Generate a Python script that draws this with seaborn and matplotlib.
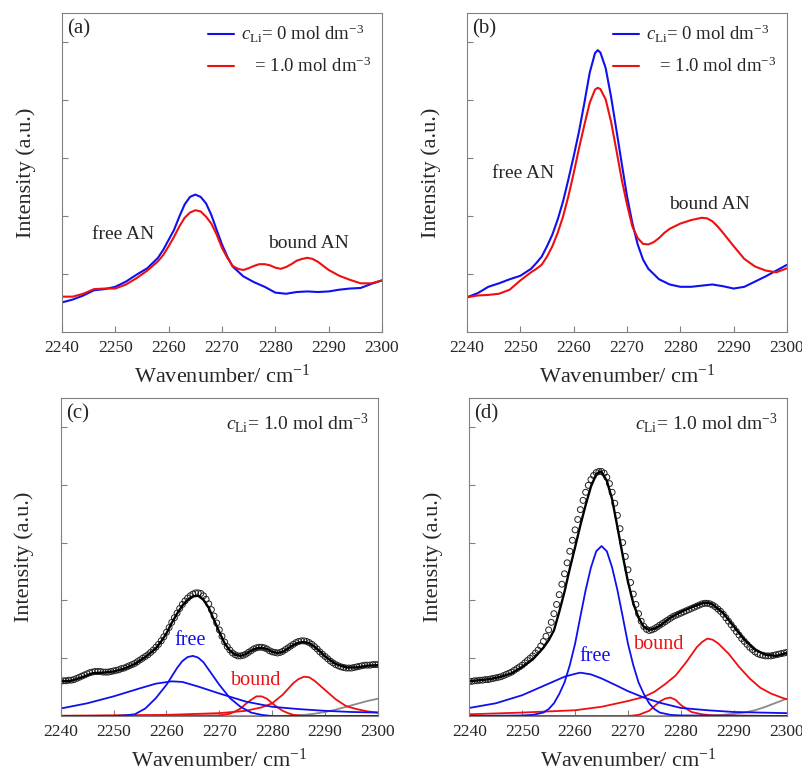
import numpy as np
import matplotlib
matplotlib.use('Agg')
import matplotlib.pyplot as plt
import seaborn as sns

sns.set_style('white')
plt.rcParams['font.family'] = ['Liberation Serif', 'DejaVu Serif']
plt.rcParams['mathtext.fontset'] = 'custom'
plt.rcParams['mathtext.rm'] = 'Liberation Serif'
plt.rcParams['mathtext.it'] = 'Liberation Serif:italic'
plt.rcParams['mathtext.bf'] = 'Liberation Serif:bold'

# ---- panel (a): measured spectra ----
a_blue_x = [2240, 2242, 2244, 2246, 2248, 2250, 2252, 2254, 2256, 2258, 2259, 2260, 2261, 2262,
            2263, 2264, 2265, 2266, 2267, 2268, 2269, 2270, 2271, 2272, 2274, 2276, 2278, 2280,
            2282, 2284, 2286, 2288, 2290, 2292, 2294, 2296, 2298, 2300]
a_blue_y = [0.51, 0.56, 0.63, 0.72, 0.74, 0.78, 0.87, 0.99, 1.10, 1.28, 1.42, 1.59, 1.76, 1.99,
            2.20, 2.33, 2.37, 2.33, 2.22, 2.02, 1.76, 1.51, 1.30, 1.13, 0.96, 0.86, 0.78, 0.68,
            0.66, 0.69, 0.70, 0.69, 0.70, 0.73, 0.75, 0.76, 0.83, 0.89]
a_red_x = [2240, 2242, 2244, 2246, 2248, 2250, 2252, 2254, 2256, 2258, 2259, 2260, 2261, 2262,
           2263, 2264, 2265, 2266, 2267, 2268, 2269, 2270, 2271, 2272, 2273, 2274, 2275, 2276,
           2277, 2278, 2279, 2280, 2281, 2282, 2283, 2284, 2285, 2286, 2287, 2288, 2289, 2290,
           2292, 2294, 2296, 2298, 2300]
a_red_y = [0.61, 0.61, 0.66, 0.74, 0.75, 0.75, 0.82, 0.93, 1.06, 1.22, 1.33, 1.48, 1.64, 1.82,
           1.97, 2.06, 2.10, 2.08, 1.99, 1.87, 1.68, 1.45, 1.28, 1.14, 1.09, 1.07, 1.10, 1.14,
           1.17, 1.17, 1.15, 1.11, 1.09, 1.12, 1.17, 1.23, 1.26, 1.28, 1.26, 1.21, 1.14, 1.07,
           0.97, 0.90, 0.84, 0.84, 0.89]

# ---- panel (b): measured spectra ----
b_blue_x = [2240, 2242, 2244, 2246, 2248, 2250, 2252, 2253, 2254, 2255, 2256, 2257, 2258, 2259,
            2260, 2261, 2262, 2263, 2264, 2264.5, 2265, 2266, 2267, 2268, 2269, 2270, 2271, 2272,
            2273, 2274, 2276, 2278, 2280, 2282, 2284, 2286, 2288, 2290, 2292, 2294, 2296, 2298, 2300]
b_blue_y = [0.60, 0.67, 0.78, 0.84, 0.91, 0.97, 1.09, 1.19, 1.30, 1.48, 1.68, 1.94, 2.25, 2.63,
            3.03, 3.46, 3.95, 4.47, 4.81, 4.86, 4.82, 4.55, 4.06, 3.49, 2.91, 2.34, 1.88, 1.51,
            1.25, 1.09, 0.91, 0.82, 0.78, 0.78, 0.80, 0.82, 0.79, 0.75, 0.78, 0.87, 0.96, 1.06, 1.16]
b_red_x = [2240, 2242, 2244, 2246, 2248, 2250, 2252, 2253, 2254, 2255, 2256, 2257, 2258, 2259,
           2260, 2261, 2262, 2263, 2264, 2264.5, 2265, 2266, 2267, 2268, 2269, 2270, 2271, 2272,
           2273, 2274, 2275, 2276, 2277, 2278, 2280, 2282, 2284, 2285, 2286, 2287, 2288, 2290,
           2292, 2294, 2296, 2298, 2300]
b_red_y = [0.60, 0.63, 0.64, 0.66, 0.73, 0.89, 1.03, 1.09, 1.16, 1.30, 1.48, 1.71, 1.99, 2.34,
           2.74, 3.17, 3.57, 3.95, 4.18, 4.21, 4.19, 4.01, 3.63, 3.14, 2.63, 2.20, 1.82, 1.62,
           1.52, 1.51, 1.55, 1.62, 1.71, 1.78, 1.87, 1.93, 1.97, 1.96, 1.91, 1.82, 1.71, 1.48,
           1.26, 1.13, 1.06, 1.03, 1.10]

# ---- panel (c): data points, fit and components ----
circ_x = np.arange(2240, 2300.25, 0.5)
c_pts = [0.60, 0.61, 0.61, 0.62, 0.62, 0.63, 0.65, 0.67, 0.69, 0.71,
         0.73, 0.75, 0.76, 0.77, 0.77, 0.77, 0.76, 0.76, 0.76, 0.77,
         0.78, 0.79, 0.80, 0.82, 0.83, 0.85, 0.87, 0.89, 0.91, 0.94,
         0.97, 1.00, 1.03, 1.06, 1.10, 1.14, 1.19, 1.24, 1.30, 1.37,
         1.45, 1.53, 1.62, 1.70, 1.78, 1.86, 1.93, 1.99, 2.04, 2.08,
         2.11, 2.13, 2.13, 2.12, 2.08, 2.02, 1.94, 1.84, 1.73, 1.61,
         1.49, 1.38, 1.28, 1.20, 1.14, 1.09, 1.06, 1.04, 1.04, 1.05,
         1.07, 1.10, 1.13, 1.16, 1.18, 1.19, 1.19, 1.18, 1.16, 1.13,
         1.11, 1.10, 1.09, 1.10, 1.12, 1.15, 1.18, 1.21, 1.24, 1.27,
         1.29, 1.30, 1.30, 1.29, 1.27, 1.24, 1.20, 1.16, 1.11, 1.07,
         1.03, 0.99, 0.95, 0.92, 0.89, 0.87, 0.85, 0.84, 0.83, 0.83,
         0.83, 0.84, 0.85, 0.86, 0.87, 0.88, 0.88, 0.88, 0.89, 0.89,
         0.89]
c_fit_x = [2240, 2242, 2244, 2246, 2248, 2250, 2252, 2254, 2256, 2258, 2259, 2260, 2261, 2262,
           2263, 2264, 2265, 2266, 2267, 2268, 2269, 2270, 2271, 2272, 2273, 2274, 2275, 2276,
           2277, 2278, 2279, 2280, 2281, 2282, 2283, 2284, 2285, 2286, 2287, 2288, 2289, 2290,
           2292, 2294, 2296, 2298, 2300]
c_fit_y = [0.60, 0.61, 0.67, 0.74, 0.75, 0.77, 0.82, 0.90, 1.02, 1.17, 1.29, 1.43, 1.61, 1.77,
           1.91, 2.01, 2.07, 2.08, 2.01, 1.87, 1.66, 1.45, 1.26, 1.13, 1.06, 1.04, 1.07, 1.13,
           1.17, 1.18, 1.16, 1.11, 1.09, 1.11, 1.17, 1.23, 1.27, 1.28, 1.26, 1.20, 1.12, 1.03,
           0.90, 0.84, 0.84, 0.87, 0.88]
c_free1_x = [2240, 2245, 2250, 2255, 2258, 2261, 2263, 2266, 2270, 2275, 2280, 2285, 2290, 2295, 2300]
c_free1_y = [0.13, 0.22, 0.34, 0.48, 0.56, 0.60, 0.59, 0.51, 0.39, 0.25, 0.16, 0.12, 0.09, 0.07, 0.06]
c_free2_x = [2240, 2250, 2252, 2254, 2256, 2258, 2260, 2262, 2263, 2264, 2265, 2266, 2267, 2268,
             2270, 2272, 2274, 2276, 2278, 2280, 2300]
c_free2_y = [0.0, 0.0, 0.01, 0.03, 0.13, 0.31, 0.54, 0.83, 0.95, 1.02, 1.04, 1.01, 0.93, 0.80,
             0.54, 0.31, 0.16, 0.06, 0.02, 0.0, 0.0]
c_bnd1_x = [2240, 2270, 2272, 2273, 2274, 2275, 2276, 2277, 2278, 2279, 2280, 2281, 2282, 2283,
            2284, 2286, 2300]
c_bnd1_y = [0.0, 0.01, 0.04, 0.08, 0.13, 0.21, 0.28, 0.34, 0.34, 0.30, 0.22, 0.15, 0.09, 0.05,
            0.02, 0.0, 0.0]
c_bnd2_x = [2240, 2260, 2270, 2275, 2278, 2280, 2282, 2284, 2285, 2286, 2287, 2288, 2290, 2292,
            2294, 2296, 2298, 2300]
c_bnd2_y = [0.005, 0.02, 0.05, 0.09, 0.15, 0.22, 0.37, 0.57, 0.64, 0.68, 0.67, 0.61, 0.45, 0.29,
            0.17, 0.12, 0.08, 0.06]
c_bg_x = [2240, 2282, 2286, 2288, 2290, 2292, 2294, 2296, 2298, 2300]
c_bg_y = [0.0, 0.0, 0.02, 0.04, 0.07, 0.11, 0.16, 0.21, 0.26, 0.30]

# ---- panel (d): data points, fit and components ----
d_pts = [0.60, 0.60, 0.61, 0.61, 0.62, 0.62, 0.63, 0.63, 0.64, 0.65,
         0.66, 0.67, 0.68, 0.70, 0.72, 0.74, 0.76, 0.79, 0.82, 0.85,
         0.88, 0.92, 0.96, 1.00, 1.04, 1.09, 1.14, 1.21, 1.29, 1.38,
         1.49, 1.62, 1.77, 1.93, 2.10, 2.28, 2.46, 2.65, 2.85, 3.04,
         3.22, 3.40, 3.57, 3.73, 3.87, 3.99, 4.09, 4.16, 4.21, 4.23,
         4.23, 4.20, 4.13, 4.02, 3.87, 3.68, 3.47, 3.24, 3.00, 2.76,
         2.53, 2.31, 2.11, 1.93, 1.77, 1.64, 1.55, 1.50, 1.48, 1.49,
         1.51, 1.54, 1.57, 1.60, 1.63, 1.66, 1.69, 1.72, 1.74, 1.76,
         1.78, 1.80, 1.82, 1.84, 1.86, 1.88, 1.90, 1.92, 1.94, 1.95,
         1.95, 1.94, 1.92, 1.89, 1.85, 1.81, 1.76, 1.70, 1.64, 1.58,
         1.52, 1.46, 1.40, 1.34, 1.29, 1.24, 1.19, 1.15, 1.11, 1.08,
         1.06, 1.05, 1.04, 1.04, 1.04, 1.05, 1.06, 1.07, 1.08, 1.09,
         1.10]
d_fit_x = [2240, 2242, 2244, 2246, 2248, 2250, 2252, 2254, 2255, 2256, 2257, 2258, 2259, 2260,
           2261, 2262, 2263, 2264, 2264.7, 2265, 2266, 2267, 2268, 2269, 2270, 2271, 2272, 2273,
           2274, 2275, 2276, 2278, 2280, 2282, 2284, 2285, 2286, 2288, 2290, 2292, 2294, 2296,
           2298, 2300]
d_fit_y = [0.60, 0.62, 0.64, 0.68, 0.74, 0.85, 0.98, 1.18, 1.31, 1.48, 1.80, 2.15, 2.55, 2.92,
           3.30, 3.65, 3.97, 4.18, 4.23, 4.22, 4.07, 3.75, 3.27, 2.78, 2.32, 1.95, 1.70, 1.54,
           1.49, 1.51, 1.56, 1.70, 1.80, 1.88, 1.95, 1.96, 1.93, 1.78, 1.55, 1.32, 1.15, 1.06,
           1.04, 1.09]
d_free1_x = [2240, 2245, 2250, 2255, 2258, 2260, 2261, 2263, 2265, 2268, 2270, 2273, 2276, 2280,
             2285, 2290, 2295, 2300]
d_free1_y = [0.14, 0.22, 0.36, 0.56, 0.68, 0.73, 0.75, 0.72, 0.65, 0.52, 0.43, 0.32, 0.23, 0.14,
             0.10, 0.07, 0.06, 0.05]
d_free2_x = [2240, 2250, 2252, 2254, 2255, 2256, 2257, 2258, 2259, 2260, 2261, 2262, 2263, 2264,
             2265, 2266, 2267, 2268, 2269, 2270, 2271, 2272, 2273, 2274, 2275, 2276, 2278, 2280, 2300]
d_free2_y = [0.0, 0.01, 0.02, 0.06, 0.12, 0.22, 0.38, 0.58, 0.88, 1.25, 1.72, 2.18, 2.57, 2.85,
             2.94, 2.85, 2.57, 2.18, 1.72, 1.25, 0.88, 0.58, 0.38, 0.22, 0.12, 0.06, 0.02, 0.01, 0.0]
d_bnd1_x = [2240, 2270, 2272, 2274, 2276, 2277, 2278, 2279, 2280, 2282, 2284, 2286, 2300]
d_bnd1_y = [0.0, 0.0, 0.02, 0.09, 0.25, 0.30, 0.32, 0.28, 0.19, 0.07, 0.03, 0.01, 0.0]
d_bnd2_x = [2240, 2250, 2260, 2265, 2270, 2273, 2275, 2277, 2279, 2281, 2283, 2284, 2285, 2286,
            2287, 2289, 2291, 2293, 2295, 2297, 2299, 2300]
d_bnd2_y = [0.03, 0.06, 0.10, 0.16, 0.26, 0.33, 0.42, 0.55, 0.70, 0.93, 1.19, 1.28, 1.34, 1.32,
            1.26, 1.08, 0.85, 0.65, 0.49, 0.39, 0.32, 0.29]
d_bg_x = [2240, 2280, 2285, 2288, 2290, 2292, 2294, 2296, 2298, 2300]
d_bg_y = [0.0, 0.0, 0.005, 0.02, 0.04, 0.06, 0.10, 0.16, 0.23, 0.30]

xticks = [2240, 2250, 2260, 2270, 2280, 2290, 2300]
yticks = [1, 2, 3, 4, 5]

BLUE = '#1010ee'
RED = '#ee1010'
GRAY = '#8a8a8a'
FRAME = '#808080'

fig = plt.figure(figsize=(8.03, 7.72), dpi=100)
ax_a = fig.add_axes([0.0772, 0.5699, 0.3985, 0.4132])
ax_b = fig.add_axes([0.5816, 0.5699, 0.3985, 0.4132])
ax_c = fig.add_axes([0.0756, 0.0725, 0.3951, 0.4119])
ax_d = fig.add_axes([0.5844, 0.0725, 0.3953, 0.4119])


def style(ax, tag):
    ax.set_xlim(2240, 2300)
    ax.set_ylim(0, 5.5)
    ax.set_xticks(xticks)
    ax.set_yticks(yticks)
    ax.set_yticklabels([])
    ax.tick_params(direction='in', length=4.5, width=0.8, color=FRAME,
                   labelsize=12.5, pad=6, left=True, bottom=True)
    for s in ax.spines.values():
        s.set_color(FRAME)
        s.set_linewidth(0.8)
    ax.set_xlabel('Wavenumber/ cm$^{-1}$', fontsize=16, labelpad=6)
    ax.set_ylabel('Intensity (a.u.)', fontsize=16, labelpad=13)
    ax.text(0.016, 0.95, tag, transform=ax.transAxes, fontsize=15, ha='left', va='center')


lab0 = r'$c_{\rm Li}$= 0 mol dm$^{-3}$'
lab1 = r'$\quad$= 1.0 mol dm$^{-3}$'

for ax, bx, by, rx, ry, tag in [(ax_a, a_blue_x, a_blue_y, a_red_x, a_red_y, '(a)'),
                                (ax_b, b_blue_x, b_blue_y, b_red_x, b_red_y, '(b)')]:
    sns.lineplot(x=bx, y=by, ax=ax, color=BLUE, lw=1.5, label=lab0, estimator=None)
    sns.lineplot(x=rx, y=ry, ax=ax, color=RED, lw=1.5, label=lab1, estimator=None)
    ax.legend(loc='upper right', frameon=False, fontsize=13.5, handlelength=1.4,
              handletextpad=0.4, labelspacing=0.6, borderaxespad=0.15)
    style(ax, tag)

ax_a.text(2245.6, 1.68, 'free AN', fontsize=14, ha='left', va='center')
ax_a.text(2278.7, 1.53, 'bound AN', fontsize=14, ha='left', va='center')
ax_b.text(2244.7, 2.74, 'free AN', fontsize=14, ha='left', va='center')
ax_b.text(2277.8, 2.20, 'bound AN', fontsize=14, ha='left', va='center')

panels = [(ax_c, c_pts, c_fit_x, c_fit_y, c_free1_x, c_free1_y, c_free2_x, c_free2_y,
           c_bnd1_x, c_bnd1_y, c_bnd2_x, c_bnd2_y, c_bg_x, c_bg_y, '(c)'),
          (ax_d, d_pts, d_fit_x, d_fit_y, d_free1_x, d_free1_y, d_free2_x, d_free2_y,
           d_bnd1_x, d_bnd1_y, d_bnd2_x, d_bnd2_y, d_bg_x, d_bg_y, '(d)')]
for (ax, pts, fx, fy, f1x, f1y, f2x, f2y, b1x, b1y, b2x, b2y, gx, gy, tag) in panels:
    sns.lineplot(x=gx, y=gy, ax=ax, color=GRAY, lw=1.3, estimator=None)
    sns.lineplot(x=b1x, y=b1y, ax=ax, color=RED, lw=1.3, estimator=None)
    sns.lineplot(x=b2x, y=b2y, ax=ax, color=RED, lw=1.3, estimator=None)
    sns.lineplot(x=f1x, y=f1y, ax=ax, color=BLUE, lw=1.3, estimator=None)
    sns.lineplot(x=f2x, y=f2y, ax=ax, color=BLUE, lw=1.3, estimator=None)
    sns.scatterplot(x=circ_x, y=pts, ax=ax, marker='o', s=18, linewidth=0.7)
    sc = ax.collections[-1]
    sc.set_facecolor('none')
    sc.set_edgecolor('#222222')
    sns.lineplot(x=fx, y=fy, ax=ax, color='black', lw=1.7, estimator=None)
    if ax.get_legend() is not None:
        ax.get_legend().remove()
    style(ax, tag)
    ax.text(0.97, 0.921, r'$c_{\rm Li}$= 1.0 mol dm$^{-3}$', transform=ax.transAxes,
            fontsize=14, ha='right', va='center')

ax_c.text(2264.4, 1.31, 'free', color=BLUE, fontsize=14.5, ha='center', va='center')
ax_c.text(2277.0, 0.62, 'bound', color=RED, fontsize=14.5, ha='center', va='center')
ax_d.text(2263.8, 1.03, 'free', color=BLUE, fontsize=14.5, ha='center', va='center')
ax_d.text(2275.8, 1.23, 'bound', color=RED, fontsize=14.5, ha='center', va='center')

fig.savefig('out.png', dpi=100)
